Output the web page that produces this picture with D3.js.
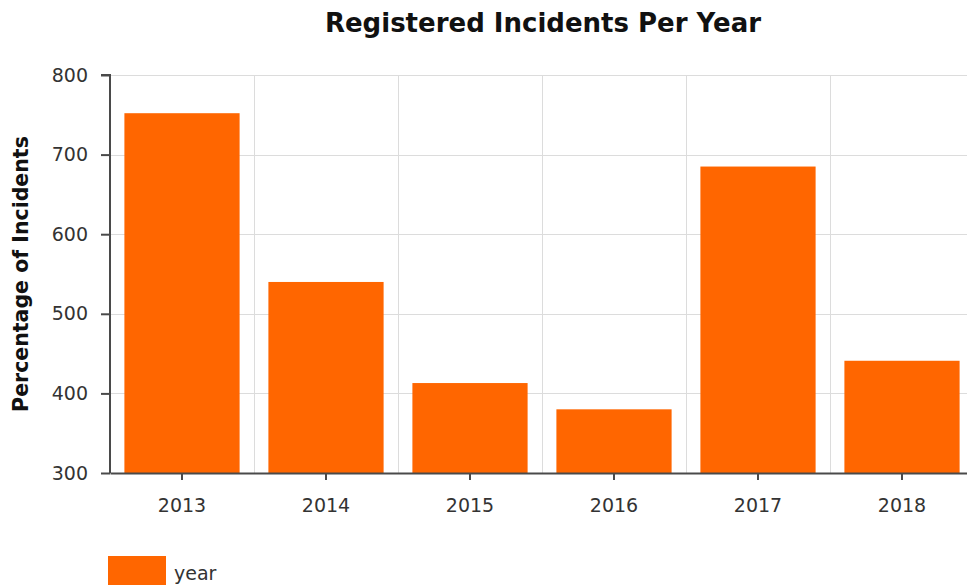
<!DOCTYPE html>
<html>
<head>
<meta charset="utf-8">
<script src="https://cdn.jsdelivr.net/npm/d3@7"></script>
<style>
  body { margin: 0; background: #fff; }
  text { font-family: "DejaVu Sans", Verdana, sans-serif; }
</style>
</head>
<body>
<div id="chart"></div>
<script>
const years = ["2013", "2014", "2015", "2016", "2017", "2018"];
const incidents = [752, 540, 413, 380, 685, 441];
const yTicks = [300, 400, 500, 600, 700, 800];

const width = 967;
const height = 585;
const margin = { top: 75, right: -7, bottom: 112, left: 110 };

const svg = d3.select("#chart")
    .append("svg")
    .attr("width", width)
    .attr("height", height);

const x = d3.scaleBand()
    .domain(years)
    .range([margin.left, width - margin.right])
    .paddingInner(0.2)
    .paddingOuter(0.1);

const y = d3.scaleLinear()
    .domain([300, 800])
    .range([height - margin.bottom, margin.top]);

// grid lines
const grid = svg.append("g").attr("stroke", "#dcdcdc").attr("stroke-width", 1);
grid.selectAll("line.h")
    .data(yTicks)
    .join("line")
    .attr("x1", margin.left)
    .attr("x2", width)
    .attr("y1", d => Math.round(y(d)) + 0.5)
    .attr("y2", d => Math.round(y(d)) + 0.5);
grid.selectAll("line.v")
    .data(years.slice(1))
    .join("line")
    .attr("x1", d => Math.round(x(d) - x.step() * x.paddingInner() / 2) + 0.5)
    .attr("x2", d => Math.round(x(d) - x.step() * x.paddingInner() / 2) + 0.5)
    .attr("y1", y(800))
    .attr("y2", y(300));

// bars
svg.append("g")
    .selectAll("rect")
    .data(years)
    .join("rect")
    .attr("x", d => x(d))
    .attr("y", (d, i) => y(incidents[i]))
    .attr("width", x.bandwidth())
    .attr("height", (d, i) => y(300) - y(incidents[i]))
    .attr("fill", "#ff6600");

// axes
const yAxis = svg.append("g")
    .attr("transform", `translate(${margin.left},0)`)
    .call(d3.axisLeft(y).tickValues(yTicks).tickSize(9).tickPadding(13));
const xAxis = svg.append("g")
    .attr("transform", `translate(0,${y(300)})`)
    .call(d3.axisBottom(x).tickSize(7).tickPadding(19).tickSizeOuter(0));

[yAxis, xAxis].forEach(a => {
    a.select(".domain").attr("stroke", "#4a4a4a").attr("stroke-width", 2);
    a.selectAll(".tick line").attr("stroke", "#4a4a4a").attr("stroke-width", 2);
    a.selectAll(".tick text")
        .attr("fill", "#333")
        .style("font-size", "19px");
});
yAxis.select(".domain").attr("d", `M-9,${y(800)}H0V${y(300)}`);

// title
svg.append("text")
    .attr("x", 543)
    .attr("y", 32)
    .attr("text-anchor", "middle")
    .style("font-size", "26px")
    .style("font-weight", "bold")
    .attr("fill", "#111")
    .text("Registered Incidents Per Year");

// y axis label
svg.append("text")
    .attr("transform", `translate(28,${(y(300) + y(800)) / 2}) rotate(-90)`)
    .attr("text-anchor", "middle")
    .style("font-size", "20.5px")
    .style("font-weight", "bold")
    .attr("fill", "#111")
    .text("Percentage of Incidents");

// legend
const legend = svg.append("g").attr("transform", "translate(108,556)");
legend.append("rect")
    .attr("width", 58)
    .attr("height", 30)
    .attr("fill", "#ff6600");
legend.append("text")
    .attr("x", 66)
    .attr("y", 24)
    .style("font-size", "19px")
    .attr("fill", "#333")
    .text("year");
</script>
</body>
</html>
